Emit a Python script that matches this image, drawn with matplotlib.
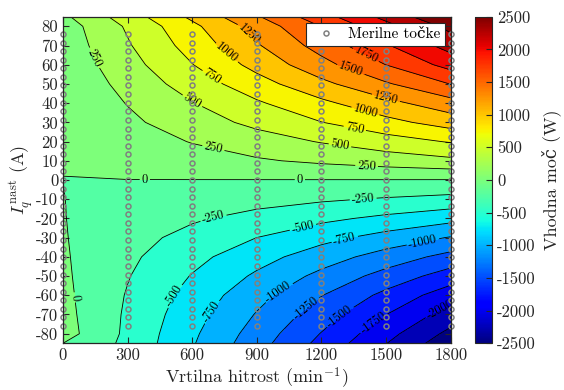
import numpy as np
import matplotlib
matplotlib.use("Agg")
import matplotlib.pyplot as plt
from matplotlib.colors import ListedColormap, BoundaryNorm, Normalize
import matplotlib.cm as cm

plt.rcParams['font.family'] = ['cmr10', 'DejaVu Serif']
plt.rcParams['mathtext.fontset'] = 'cm'
plt.rcParams['axes.unicode_minus'] = False

# speed columns (min^-1) and current rows (A)
speed = [0, 300, 600, 900, 1200, 1500, 1800]
iq = [-85, -80, -70, -60, -50, -40, -30, -20, -10, 0,
      10, 20, 30, 40, 50, 60, 70, 80, 85]

# input power (W), one row per iq value
power = [
    [0, -307, -728, -1150, -1572, -1993, -2415],
    [102, -301, -705, -1108, -1511, -1915, -2318],
    [78, -287, -652, -1017, -1382, -1747, -2112],
    [58, -267, -592, -917, -1242, -1567, -1892],
    [40, -237, -513, -790, -1067, -1343, -1620],
    [26, -201, -427, -654, -881, -1107, -1334],
    [14, -158, -329, -501, -673, -844, -1016],
    [6, -106, -219, -331, -444, -556, -669],
    [2, -53, -108, -163, -218, -273, -328],
    [-0.5, -2, -3, -4, -5, -6, -8],
    [2, 75, 149, 222, 295, 369, 442],
    [8, 135, 261, 388, 515, 641, 768],
    [18, 200, 381, 563, 745, 926, 1108],
    [32, 260, 489, 717, 945, 1174, 1402],
    [45, 330, 615, 900, 1185, 1470, 1755],
    [70, 407, 743, 1080, 1417, 1753, 2090],
    [100, 475, 850, 1225, 1600, 1975, 2350],
    [125, 533, 942, 1350, 1758, 2167, 2575],
    [200, 625, 1050, 1475, 1900, 2325, 2750],
]

# measured current set points at every speed column
iq_half = [4.5, 8.9, 13.4, 17.9, 22.4, 26.8, 31.3, 35.8, 40.2, 44.7,
           49.2, 53.6, 58.1, 62.6, 67.1, 71.5, 76.0]
iq_meas = [-v for v in iq_half[::-1]] + [0.0] + iq_half

xticks = [0, 300, 600, 900, 1200, 1500, 1800]
yticks = list(range(-80, 81, 10))
cticks = list(range(-2500, 2501, 500))

# where the contour labels sit (speed, iq)
label_pos = [
    (155, 64), (600, 41), (682, 52), (752, 65), (853, 75),
    (697, 16), (380, 0), (1100, 0), (1410, 8), (1286, 18),
    (1355, 27), (1402, 35), (1495, 41), (1332, 56), (1402, 64),
    (697, -19), (1394, -10), (1115, -25), (1309, -31), (1673, -33),
    (682, -68), (999, -58), (1123, -66), (1286, -71), (1433, -73),
    (1758, -69), (511, -60), (62, -61),
]

levels = np.arange(-2500, 2501, 250)
jet = plt.get_cmap('jet')
norm_c = Normalize(-2500, 2500)
band_cols = [jet(norm_c(l)) for l in levels[:-1]]
cmap_b = ListedColormap(band_cols)
cmap_b.set_over(jet(1.0))
norm_b = BoundaryNorm(levels, cmap_b.N)

txt = (0.15, 0.15, 0.15)

fig = plt.figure(figsize=(5.64, 3.9), dpi=100)
ax = fig.add_axes([0.1117, 0.1197, 0.6873, 0.8375])
cax = fig.add_axes([0.842, 0.1197, 0.0307, 0.8375])

X, Y = np.meshgrid(speed, iq)
Z = np.array(power, dtype=float)
ax.contourf(X, Y, Z, levels=levels, cmap=cmap_b, norm=norm_b, extend='max')
cs = ax.contour(X, Y, Z, levels=levels, colors='k', linewidths=0.6,
                linestyles='solid')
ax.clabel(cs, fmt=lambda v: '%d' % v, fontsize=9, inline=True,
          inline_spacing=2, manual=label_pos)

xs = np.repeat(speed, len(iq_meas))
ys = np.tile(iq_meas, len(speed))
ax.plot(xs, ys, 'o', ls='none', mfc='none', mec=(0.5, 0.5, 0.5), ms=3.6,
        mew=1.1, clip_on=False, zorder=5, label='Merilne točke')

ax.set_xlim(0, 1800)
ax.set_ylim(-85, 85)
ax.set_xticks(xticks, labels=[str(v) for v in xticks])
ax.set_yticks(yticks, labels=[str(v) for v in yticks])
ax.tick_params(direction='in', top=True, right=True, length=4, width=0.8,
               labelsize=12, colors=txt, labelcolor=txt)
for s in ax.spines.values():
    s.set_color(txt)
    s.set_linewidth(0.9)
    s.set_zorder(6)
ax.set_xlabel('Vrtilna hitrost (min$^{-1}$)', fontsize=13, color=txt, labelpad=2)
ax.set_ylabel(r'$I_q^{\,\mathrm{nast}}$ (A)', fontsize=13, color=txt, labelpad=0)

leg = ax.legend(loc='upper right', fontsize=11, numpoints=1, fancybox=False,
                framealpha=1, edgecolor=txt, borderaxespad=0.4,
                handletextpad=0.4, borderpad=0.3)
leg.get_frame().set_linewidth(0.8)
leg.set_zorder(7)

sm = cm.ScalarMappable(norm=norm_c, cmap=jet)
cb = fig.colorbar(sm, cax=cax)
cb.set_ticks(cticks, labels=[str(v) for v in cticks])
cb.ax.tick_params(direction='in', length=4, labelsize=12, colors=txt, labelcolor=txt)
cb.outline.set_edgecolor(txt)
cb.set_label('Vhodna moč (W)', fontsize=13, color=txt, labelpad=4)

fig.savefig('out.png', dpi=100)
